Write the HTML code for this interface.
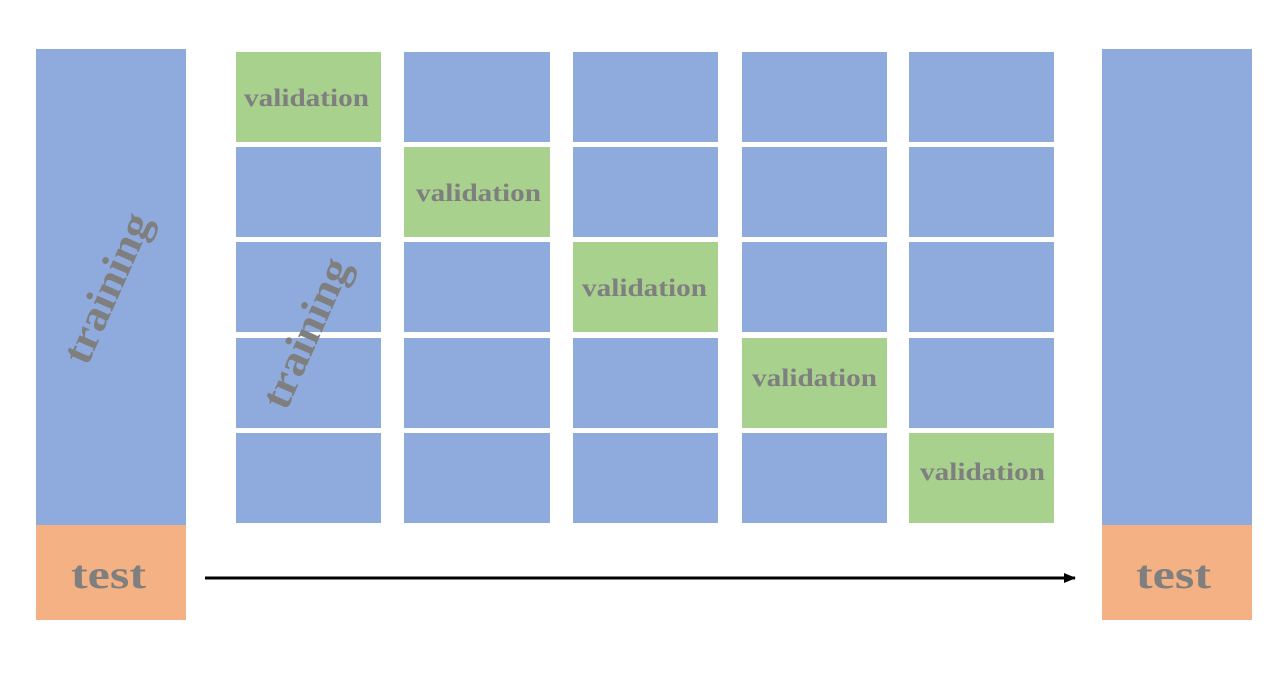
<!DOCTYPE html>
<html><head><style>body{margin:0;background:#fff}</style></head><body>
<svg width="1286" height="668" xmlns="http://www.w3.org/2000/svg" font-family="Liberation Serif, serif" font-weight="bold" fill="#7f7f7f">
<defs><marker id="a" markerWidth="12" markerHeight="12" refX="11" refY="6" orient="auto" markerUnits="userSpaceOnUse"><path d="M0,1 L12,6 L0,11z" fill="#000"/></marker></defs>
<rect x="36" y="49" width="150" height="476" fill="#8faadc"/>
<rect x="36" y="525" width="150" height="95" fill="#f4b183"/>
<rect x="1102" y="49" width="150" height="476" fill="#8faadc"/>
<rect x="1102" y="525" width="150" height="95" fill="#f4b183"/>
<g fill="#8faadc">
<rect x="236" y="52" width="145" height="90" fill="#a9d18e"/><rect x="404" y="52" width="146" height="90"/><rect x="573" y="52" width="145" height="90"/><rect x="742" y="52" width="145" height="90"/><rect x="909" y="52" width="145" height="90"/>
<rect x="236" y="147" width="145" height="90"/><rect x="404" y="147" width="146" height="90" fill="#a9d18e"/><rect x="573" y="147" width="145" height="90"/><rect x="742" y="147" width="145" height="90"/><rect x="909" y="147" width="145" height="90"/>
<rect x="236" y="242" width="145" height="90"/><rect x="404" y="242" width="146" height="90"/><rect x="573" y="242" width="145" height="90" fill="#a9d18e"/><rect x="742" y="242" width="145" height="90"/><rect x="909" y="242" width="145" height="90"/>
<rect x="236" y="338" width="145" height="90"/><rect x="404" y="338" width="146" height="90"/><rect x="573" y="338" width="145" height="90"/><rect x="742" y="338" width="145" height="90" fill="#a9d18e"/><rect x="909" y="338" width="145" height="90"/>
<rect x="236" y="433" width="145" height="90"/><rect x="404" y="433" width="146" height="90"/><rect x="573" y="433" width="145" height="90"/><rect x="742" y="433" width="145" height="90"/><rect x="909" y="433" width="145" height="90" fill="#a9d18e"/>
</g>
<g font-size="25">
<text x="244" y="106" textLength="125" lengthAdjust="spacingAndGlyphs">validation</text>
<text x="416" y="201" textLength="125" lengthAdjust="spacingAndGlyphs">validation</text>
<text x="582" y="296" textLength="125" lengthAdjust="spacingAndGlyphs">validation</text>
<text x="752" y="386" textLength="125" lengthAdjust="spacingAndGlyphs">validation</text>
<text x="920" y="480" textLength="125" lengthAdjust="spacingAndGlyphs">validation</text>
</g>
<g font-size="40">
<text x="71" y="588" textLength="75" lengthAdjust="spacingAndGlyphs">test</text>
<text x="1136" y="588" textLength="75" lengthAdjust="spacingAndGlyphs">test</text>
<text transform="translate(107,288) rotate(-66)" x="-80" y="14" font-size="43" textLength="160" lengthAdjust="spacingAndGlyphs">training</text>
<text transform="translate(306,333) rotate(-66)" x="-80" y="14" font-size="43" textLength="160" lengthAdjust="spacingAndGlyphs">training</text>
</g>
<line x1="205" y1="578" x2="1075" y2="578" stroke="#000" stroke-width="3" marker-end="url(#a)"/>
</svg>
</body></html>
